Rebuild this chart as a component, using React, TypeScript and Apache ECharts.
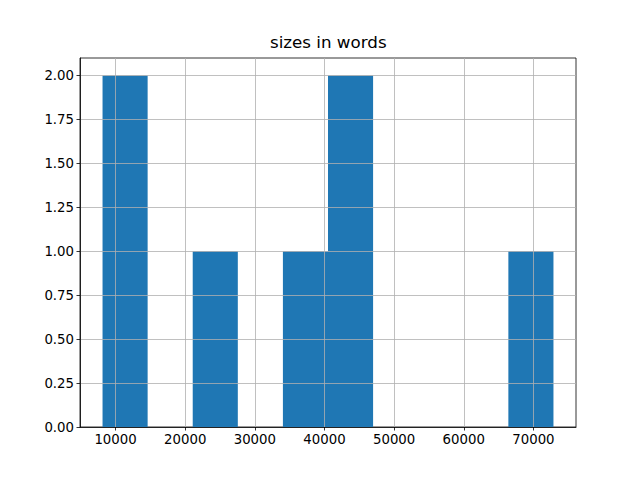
import React, { useEffect, useRef } from "react";
import * as echarts from "echarts";

const binEdges = [8130, 14605, 21080, 27555, 34030, 40505, 46980, 53455, 59930, 66405, 72880];
const binCounts = [2, 0, 1, 0, 1, 2, 0, 0, 0, 1];
const xTicks = [10000, 20000, 30000, 40000, 50000, 60000, 70000];
const yTicks = [0, 0.25, 0.5, 0.75, 1.0, 1.25, 1.5, 1.75, 2.0];
const titleText = "sizes in words";

export default function App() {
  const ref = useRef<HTMLDivElement>(null);
  useEffect(() => {
    document.body.style.margin = "0";
    if (!ref.current) return;
    const chart = echarts.init(ref.current, null, { renderer: "svg" });
    const data = binCounts.map((c, i) => [binEdges[i], binEdges[i + 1], c]);
    const font = "DejaVu Sans";
    chart.setOption({
      animation: false,
      title: {
        text: titleText,
        left: 265,
        top: 28,
        textStyle: { fontFamily: font, fontSize: 16.7, fontWeight: "normal", color: "#000" },
      },
      grid: {
        left: 80,
        right: 64,
        top: 58,
        bottom: 53,
        show: true,
        borderColor: "#000",
        borderWidth: 0.8,
        backgroundColor: "#fff",
      },
      xAxis: {
        type: "value",
        min: 4893,
        max: 76117,
        z: 3,
        axisLine: { show: true, onZero: false, lineStyle: { color: "#000", width: 0.8 } },
        axisTick: { show: true, length: 3.5, customValues: xTicks, lineStyle: { color: "#000", width: 0.8 } },
        axisLabel: {
          customValues: xTicks,
          margin: 6,
          color: "#000",
          fontFamily: font,
          fontSize: 13.3,
          formatter: (v: number) => String(Math.round(v)),
        },
        splitLine: { show: true, lineStyle: { color: "#b0b0b0", width: 0.8 } },
      },
      yAxis: {
        type: "value",
        min: 0,
        max: 2.1,
        z: 3,
        axisLine: { show: true, lineStyle: { color: "#000", width: 0.8 } },
        axisTick: { show: true, length: 3.5, customValues: yTicks, lineStyle: { color: "#000", width: 0.8 } },
        axisLabel: {
          customValues: yTicks,
          margin: 6,
          color: "#000",
          fontFamily: font,
          fontSize: 13.3,
          formatter: (v: number) => v.toFixed(2),
        },
        splitLine: { show: true, lineStyle: { color: "#b0b0b0", width: 0.8 } },
      },
      series: [
        {
          type: "custom",
          z: 2,
          data,
          renderItem: (params: any, api: any) => {
            const x0 = api.value(0);
            const x1 = api.value(1);
            const c = api.value(2);
            if (!c) return null;
            const p0 = api.coord([x0, c]);
            const p1 = api.coord([x1, 0]);
            return {
              type: "rect",
              shape: { x: p0[0], y: p0[1], width: p1[0] - p0[0], height: p1[1] - p0[1] },
              style: { fill: "#1f77b4" },
            };
          },
        },
      ],
    });
    return () => chart.dispose();
  }, []);
  return <div ref={ref} style={{ width: 640, height: 480 }} />;
}
